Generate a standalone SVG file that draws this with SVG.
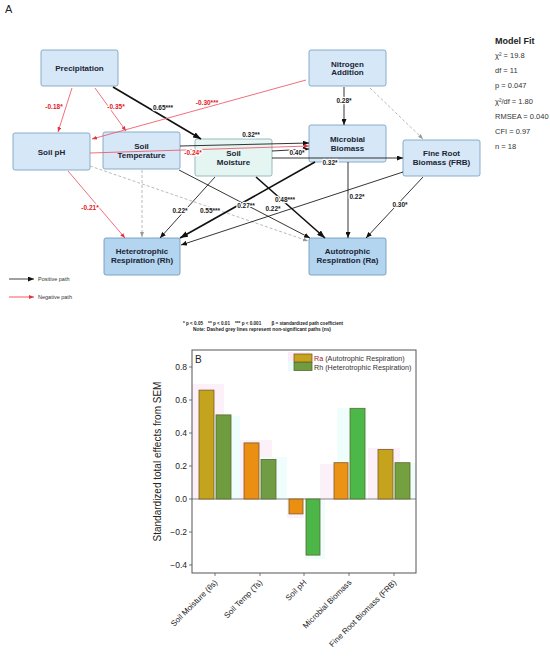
<svg xmlns="http://www.w3.org/2000/svg" width="550" height="660" viewBox="0 0 550 660">
<defs>
<marker id="aK" markerUnits="userSpaceOnUse" markerWidth="6" markerHeight="5" refX="6" refY="2.5" orient="auto"><path d="M0,0 L6,2.5 L0,5 z" fill="#111"/></marker>
<marker id="aKb" markerUnits="userSpaceOnUse" markerWidth="8" markerHeight="6" refX="8" refY="3" orient="auto"><path d="M0,0 L8,3 L0,6 z" fill="#111"/></marker>
<marker id="aR" markerUnits="userSpaceOnUse" markerWidth="5" markerHeight="4" refX="5" refY="2" orient="auto"><path d="M0,0 L5,2 L0,4 z" fill="#e8323f"/></marker>
<marker id="aG" markerUnits="userSpaceOnUse" markerWidth="5" markerHeight="4" refX="5" refY="2" orient="auto"><path d="M0,0 L5,2 L0,4 z" fill="#999"/></marker>
</defs>
<style>
text{font-family:"Liberation Sans",Arial,sans-serif}
.node rect{fill:#d6e8f7;stroke:#7ea4c2;stroke-width:0.9}
.node.sm rect{fill:#e5f5f2;stroke:#8fb3b8}
.node.resp rect{fill:#b4d5ef;stroke:#6f9cc0}
.nt{font-size:8px;font-weight:bold;fill:#1b2433;text-anchor:middle}
.k{stroke:#111;stroke-width:0.85;fill:none;marker-end:url(#aK)}
.kb{stroke:#111;stroke-width:1.6;fill:none;marker-end:url(#aKb)}
.r{stroke:#ef5566;stroke-width:0.85;fill:none;marker-end:url(#aR)}
.g{stroke:#a8a8a8;stroke-width:0.8;stroke-dasharray:3,2;fill:none;marker-end:url(#aG)}
.lb{font-size:6.5px;font-weight:bold;fill:#222;text-anchor:middle;stroke:#fff;stroke-width:2.5;paint-order:stroke;stroke-linejoin:round}
.lr{fill:#e3191c}
.mf{font-size:7.5px;fill:#333}
.tick{stroke:#555;stroke-width:0.8}
.yl{font-size:8.5px;fill:#222;text-anchor:end}
.xl{font-size:8px;fill:#222;text-anchor:end}
.ra{stroke:#7d5a2a;stroke-width:0.8}
.rh{stroke:#5d6a2e;stroke-width:0.8}
</style>
<rect width="550" height="660" fill="#fff"/>
<text x="5" y="13" font-size="11" fill="#222">A</text>

<g id="nodes">
<g id="precipitation" class="node"><rect x="41" y="50" width="77" height="36" rx="2"/><text class="nt" x="79.5" y="71">Precipitation</text></g>
<g id="nitrogen" class="node"><rect x="309" y="50" width="77" height="36" rx="2"/><text class="nt" x="347.5" y="66.5">Nitrogen</text><text class="nt" x="347.5" y="75">Addition</text></g>
<g id="soilph" class="node"><rect x="13" y="133" width="77" height="37" rx="2"/><text class="nt" x="51.5" y="154.5">Soil pH</text></g>
<g id="soiltemp" class="node"><rect x="103" y="132" width="77" height="37" rx="2"/><text class="nt" x="141.5" y="149">Soil</text><text class="nt" x="141.5" y="157.5">Temperature</text></g>
<g id="soilmoist" class="node sm"><rect x="195" y="139" width="77" height="37" rx="2"/><text class="nt" x="233.5" y="156">Soil</text><text class="nt" x="233.5" y="164.5">Moisture</text></g>
<g id="microbial" class="node"><rect x="309" y="125" width="77" height="37" rx="2"/><text class="nt" x="347.5" y="142">Microbial</text><text class="nt" x="347.5" y="150.5">Biomass</text></g>
<g id="frb" class="node"><rect x="403" y="140" width="77" height="36" rx="2"/><text class="nt" x="441.5" y="156">Fine Root</text><text class="nt" x="441.5" y="164.5">Biomass (FRB)</text></g>
<g id="rh" class="node resp"><rect x="104" y="238" width="76" height="37" rx="2"/><text class="nt" x="142" y="254">Heterotrophic</text><text class="nt" x="142" y="262.5">Respiration (Rh)</text></g>
<g id="ra" class="node resp"><rect x="309" y="238" width="77" height="37" rx="2"/><text class="nt" x="347.5" y="254">Autotrophic</text><text class="nt" x="347.5" y="262.5">Respiration (Ra)</text></g>
</g>

<g id="connectors">
<line class="g" x1="370" y1="88" x2="423" y2="139"/>
<line class="g" x1="142" y1="170" x2="142" y2="237"/>
<line class="g" x1="90" y1="166" x2="308" y2="241"/>
<line class="r" x1="72" y1="88" x2="58" y2="132"/>
<line class="r" x1="95" y1="88" x2="126" y2="131"/>
<line class="kb" x1="113" y1="87" x2="201" y2="139"/>
<line class="r" x1="306" y1="80" x2="92" y2="139"/>
<line class="k" x1="344" y1="87" x2="344" y2="125"/>
<line class="k" x1="180" y1="146" x2="309" y2="143"/>
<line class="r" x1="90" y1="153" x2="309" y2="146"/>
<line class="k" x1="272" y1="151" x2="309" y2="149"/>
<line class="k" stroke-width="1.1" x1="272" y1="158" x2="403" y2="158"/>
<line class="kb" x1="315" y1="162" x2="180" y2="238"/>
<line class="k" x1="215" y1="177" x2="160" y2="238"/>
<line class="k" x1="179" y1="170" x2="310" y2="238"/>
<line class="kb" x1="256" y1="177" x2="325" y2="238"/>
<line class="k" x1="403" y1="172" x2="181" y2="245"/>
<line class="k" x1="348" y1="162" x2="348" y2="238"/>
<line class="k" x1="423" y1="177" x2="366" y2="238"/>
<line class="r" x1="68" y1="171" x2="125" y2="238"/>
</g>

<g id="labels">
<text class="lb lr" x="54" y="109">-0.18*</text>
<text class="lb lr" x="116" y="109">-0.35*</text>
<text class="lb" x="163" y="110">0.65***</text>
<text class="lb lr" x="207" y="105">-0.30***</text>
<text class="lb" x="344" y="103">0.28*</text>
<text class="lb" x="251" y="137">0.32**</text>
<text class="lb lr" x="193" y="155">-0.24*</text>
<text class="lb" x="297" y="155">0.40*</text>
<text class="lb" x="330" y="165">0.32*</text>
<text class="lb" x="210" y="213">0.55***</text>
<text class="lb" x="180" y="213">0.22*</text>
<text class="lb" x="246" y="208">0.27**</text>
<text class="lb" x="285" y="202">0.48***</text>
<text class="lb" x="273" y="211">0.22*</text>
<text class="lb" x="357" y="199">0.22*</text>
<text class="lb" x="400" y="207">0.30*</text>
<text class="lb lr" x="90" y="210">-0.21*</text>
</g>

<g id="modelfit">
<text x="495" y="44" font-size="9" font-weight="bold" fill="#222">Model Fit</text>
<text class="mf" x="495" y="58">χ² = 19.8</text>
<text class="mf" x="495" y="73">df = 11</text>
<text class="mf" x="495" y="88">p = 0.047</text>
<text class="mf" x="495" y="104">χ²/df = 1.80</text>
<text class="mf" x="495" y="119">RMSEA = 0.040</text>
<text class="mf" x="495" y="134">CFI = 0.97</text>
<text class="mf" x="495" y="149">n = 18</text>
</g>

<g id="legend">
<line x1="9" y1="279" x2="34" y2="279" stroke="#111" stroke-width="0.8" marker-end="url(#aK)"/>
<text x="38" y="281" font-size="5.5" fill="#333">Positive path</text>
<line x1="9" y1="297" x2="34" y2="297" stroke="#e8323f" stroke-width="0.8" marker-end="url(#aR)"/>
<text x="38" y="299" font-size="5.5" fill="#333">Negative path</text>
</g>

<g id="notes" font-weight="bold" fill="#222" text-anchor="middle">
<text x="263" y="325" font-size="4.6" xml:space="preserve">* p &lt; 0.05    ** p &lt; 0.01    *** p &lt; 0.001        β = standardized path coefficient</text>
<text x="262" y="331" font-size="4.8">Note: Dashed grey lines represent non-significant paths (ns)</text>
</g>

<g id="chartB">
<g opacity="0.6">
<rect x="192" y="384" width="32" height="115" fill="#fde8f6"/>
<rect x="208" y="416" width="32" height="83" fill="#e6fcfc"/>
<rect x="240" y="440" width="32" height="59" fill="#fde8f6"/>
<rect x="257" y="457" width="30" height="42" fill="#e6fcfc"/>
<rect x="287" y="499" width="17" height="19" fill="#fde8f6"/>
<rect x="305" y="499" width="20" height="60" fill="#e6fcfc"/>
<rect x="320" y="464" width="30" height="35" fill="#fde8f6"/>
<rect x="337" y="408" width="30" height="91" fill="#e6fcfc"/>
<rect x="368" y="448" width="32" height="51" fill="#fde8f6"/>
<rect x="383" y="463" width="33" height="36" fill="#e6fcfc"/>
<rect x="288" y="352" width="22" height="9" fill="#fde0f2"/>
<rect x="288" y="361" width="22" height="10" fill="#e0fafa"/>
</g>
<line x1="192" y1="499" x2="416" y2="499" stroke="#666" stroke-width="0.8"/>
<rect class="ra" x="199" y="390.1" width="15" height="108.9" fill="#c4a41c"/>
<rect class="rh" x="216" y="414.9" width="15" height="84.1" fill="#6f9c3f"/>
<rect class="ra" x="244" y="442.9" width="15" height="56.1" fill="#ea8f12"/>
<rect class="rh" x="261" y="459.4" width="15" height="39.6" fill="#6f9c44"/>
<rect class="ra" x="289" y="499" width="14" height="14.9" fill="#eb8f10"/>
<rect class="rh" x="306" y="499" width="14" height="56.1" fill="#4cb648"/>
<rect class="ra" x="334" y="462.7" width="14" height="36.3" fill="#ec9214"/>
<rect class="rh" x="350" y="408.3" width="15" height="90.7" fill="#4cb84a"/>
<rect class="ra" x="378" y="449.5" width="15" height="49.5" fill="#c6a31c"/>
<rect class="rh" x="395" y="462.7" width="15" height="36.3" fill="#74a040"/>
<rect x="192" y="350" width="224" height="223" fill="none" stroke="#555" stroke-width="1"/>
<text x="195" y="363" font-size="10" fill="#222">B</text>
<rect class="ra" x="294" y="354" width="18" height="8" fill="#c4a41c"/>
<rect class="rh" x="294" y="362.5" width="18" height="8" fill="#6f9c3f"/>
<text x="314" y="361" font-size="7.2" fill="#333"><tspan fill="#a01830">Ra</tspan> (Autotrophic Respiration)</text>
<text x="314" y="369.5" font-size="7.2" fill="#333">Rh (Heterotrophic Respiration)</text>
<g class="tick">
<line x1="189" y1="367" x2="192" y2="367"/><line x1="189" y1="400" x2="192" y2="400"/><line x1="189" y1="433" x2="192" y2="433"/><line x1="189" y1="466" x2="192" y2="466"/><line x1="189" y1="499" x2="192" y2="499"/><line x1="189" y1="532" x2="192" y2="532"/><line x1="189" y1="565" x2="192" y2="565"/>
<line x1="215" y1="573" x2="215" y2="576"/><line x1="260" y1="573" x2="260" y2="576"/><line x1="304" y1="573" x2="304" y2="576"/><line x1="349" y1="573" x2="349" y2="576"/><line x1="394" y1="573" x2="394" y2="576"/>
</g>
<text class="yl" x="187" y="370">0.8</text>
<text class="yl" x="187" y="403">0.6</text>
<text class="yl" x="187" y="436">0.4</text>
<text class="yl" x="187" y="469">0.2</text>
<text class="yl" x="187" y="502">0.0</text>
<text class="yl" x="187" y="535">−0.2</text>
<text class="yl" x="187" y="568">−0.4</text>
<text x="161" y="461.5" font-size="10" fill="#222" text-anchor="middle" transform="rotate(-90 161 461.5)">Standardized total effects from SEM</text>
<text class="xl" transform="translate(218 583) rotate(-45)">Soil Moisture (θs)</text>
<text class="xl" transform="translate(263 583) rotate(-45)">Soil Temp (Ts)</text>
<text class="xl" transform="translate(307 583) rotate(-45)">Soil pH</text>
<text class="xl" transform="translate(352 583) rotate(-45)">Microbial Biomass</text>
<text class="xl" transform="translate(397 583) rotate(-45)">Fine Root Biomass (FRB)</text>
</g>
</svg>
